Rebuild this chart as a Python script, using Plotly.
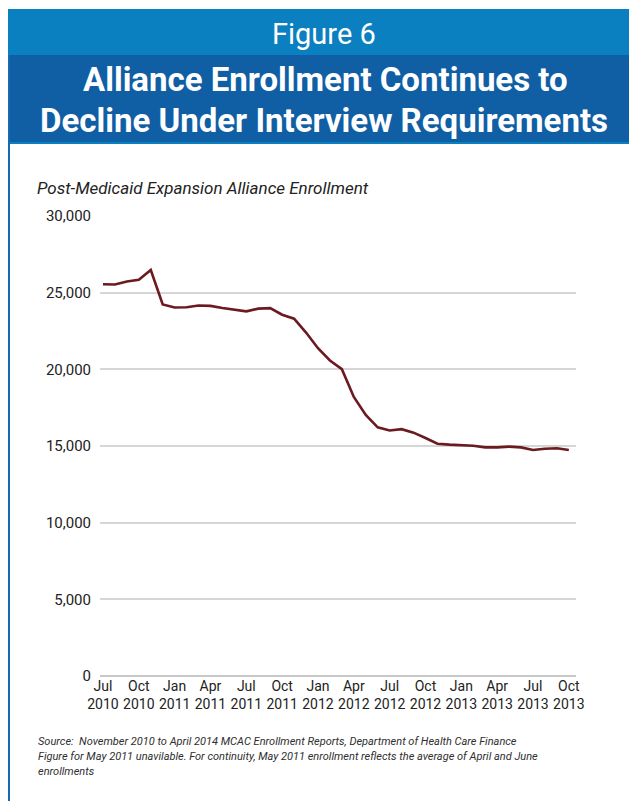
import plotly.graph_objects as go

# Monthly Alliance enrollment, Jul 2010 - Oct 2013
months = [
    "2010-07", "2010-08", "2010-09", "2010-10", "2010-11", "2010-12",
    "2011-01", "2011-02", "2011-03", "2011-04", "2011-05", "2011-06",
    "2011-07", "2011-08", "2011-09", "2011-10", "2011-11", "2011-12",
    "2012-01", "2012-02", "2012-03", "2012-04", "2012-05", "2012-06",
    "2012-07", "2012-08", "2012-09", "2012-10", "2012-11", "2012-12",
    "2013-01", "2013-02", "2013-03", "2013-04", "2013-05", "2013-06",
    "2013-07", "2013-08", "2013-09", "2013-10",
]
enrollment = [
    25550, 25530, 25730, 25840, 26480, 24230,
    24030, 24050, 24160, 24140, 24005, 23870,
    23780, 23960, 23990, 23560, 23300, 22400,
    21380, 20580, 20010, 18200, 17020, 16220,
    16010, 16100, 15870, 15520, 15150, 15090,
    15040, 15020, 14910, 14910, 14960, 14910,
    14740, 14820, 14850, 14740,
]

# Quarterly tick labels
tick_months = ["2010-07", "2010-10", "2011-01", "2011-04", "2011-07", "2011-10",
               "2012-01", "2012-04", "2012-07", "2012-10", "2013-01", "2013-04",
               "2013-07", "2013-10"]
tick_text = ["Jul<br>2010", "Oct<br>2010", "Jan<br>2011", "Apr<br>2011",
             "Jul<br>2011", "Oct<br>2011", "Jan<br>2012", "Apr<br>2012",
             "Jul<br>2012", "Oct<br>2012", "Jan<br>2013", "Apr<br>2013",
             "Jul<br>2013", "Oct<br>2013"]
y_ticks = [0, 5000, 10000, 15000, 20000, 25000, 30000]

note_lines = [
    "Source:  November 2010 to April 2014 MCAC Enrollment Reports, Department of Health Care Finance",
    "Figure for May 2011 unavilable. For continuity, May 2011 enrollment reflects the average of April and June",
    "enrollments",
]

W, H = 629, 801
ML, MR, MT, MB = 100, 53, 216, 125
PW, PH = W - ML - MR, H - MT - MB

LIGHT_BLUE = "#0a80c0"
DARK_BLUE = "#105ea4"
BORDER_BLUE = "#1769b3"
LINE_RED = "#6b1a20"
BODY = "Roboto, Liberation Sans Narrow, sans-serif"
HEAD = "Roboto, Open Sans, sans-serif"


def px(x):
    return (x - ML) / PW


def py(y):
    return (H - MB - y) / PH


fig = go.Figure()
fig.add_trace(go.Scatter(
    x=months, y=enrollment, mode="lines",
    line=dict(color=LINE_RED, width=2.6),
    hoverinfo="skip", showlegend=False,
))

shapes = [
    # header bands
    dict(type="rect", xref="paper", yref="paper", x0=px(8), x1=px(W), y0=py(9), y1=py(55),
         fillcolor=LIGHT_BLUE, line_width=0, layer="below"),
    dict(type="rect", xref="paper", yref="paper", x0=px(8), x1=px(W), y0=py(55), y1=py(142),
         fillcolor=DARK_BLUE, line_width=0, layer="below"),
    dict(type="rect", xref="paper", yref="paper", x0=px(8), x1=px(W), y0=py(142), y1=py(144),
         fillcolor=LIGHT_BLUE, line_width=0, layer="below"),
    # left frame edge
    dict(type="rect", xref="paper", yref="paper", x0=px(8), x1=px(10), y0=py(55), y1=py(H),
         fillcolor=BORDER_BLUE, line_width=0, layer="below"),
    dict(type="rect", xref="paper", yref="paper", x0=px(8), x1=px(10), y0=py(9), y1=py(55),
         fillcolor=LIGHT_BLUE, line_width=0, layer="below"),
]

annotations = [
    dict(text="Figure 6", x=px(324), y=py(34), xref="paper", yref="paper",
         showarrow=False, xanchor="center", yanchor="middle",
         font=dict(family=HEAD, size=29, color="white")),
    dict(text="<b>Alliance Enrollment Continues to</b>", x=px(325), y=py(80),
         xref="paper", yref="paper", showarrow=False, xanchor="center", yanchor="middle",
         font=dict(family=HEAD, size=33, color="white")),
    dict(text="<b>Decline Under Interview Requirements</b>", x=px(324), y=py(120),
         xref="paper", yref="paper", showarrow=False, xanchor="center", yanchor="middle",
         font=dict(family=HEAD, size=33, color="white")),
    dict(text="<i>Post-Medicaid Expansion Alliance Enrollment</i>", x=px(35), y=py(188),
         xref="paper", yref="paper", showarrow=False, xanchor="left", yanchor="middle",
         font=dict(family=BODY, size=17, color="#222222")),
]

# Footnote lines
for i, line in enumerate(note_lines):
    annotations.append(dict(
        text=f"<i>{line}</i>", x=px(36), y=py(741 + 15 * i),
        xref="paper", yref="paper", showarrow=False,
        xanchor="left", yanchor="middle", align="left",
        font=dict(family=BODY, size=11, color="#2e2e2e"),
    ))

fig.update_layout(
    width=W, height=H, autosize=False,
    margin=dict(l=ML, r=MR, t=MT, b=MB, pad=0),
    paper_bgcolor="white", plot_bgcolor="white",
    shapes=shapes, annotations=annotations,
    xaxis=dict(
        type="category", range=[-0.25, len(months) - 0.4],
        tickmode="array", tickvals=tick_months, ticktext=tick_text,
        tickangle=0, showgrid=False, zeroline=False, showline=False, ticks="",
        tickfont=dict(family=BODY, size=14, color="#222222"),
    ),
    yaxis=dict(
        range=[0, 30000], tickmode="array", tickvals=y_ticks,
        tickformat=",d", showgrid=True, gridcolor="#d6d6d6", gridwidth=1.6,
        zeroline=True, zerolinecolor="#c8c8c8", zerolinewidth=1.6,
        showline=False, ticks="", ticklabelstandoff=8,
        tickfont=dict(family=BODY, size=15, color="#222222"),
    ),
)

fig.write_html("out.html")
